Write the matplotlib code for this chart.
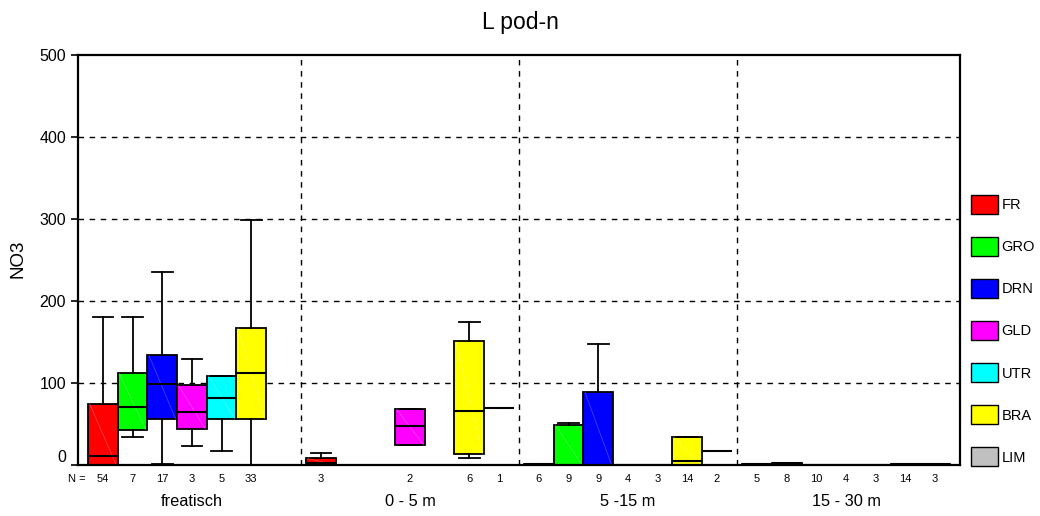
import matplotlib.pyplot as plt
from matplotlib.patches import Patch

plt.rcParams['font.family'] = ['Liberation Sans', 'DejaVu Sans']

groups = ['freatisch', '0 - 5 m', '5 -15 m', '15 - 30 m']
categories = ['FR', 'GRO', 'DRN', 'GLD', 'UTR', 'BRA', 'LIM']
colors = ['#ff0000', '#00ff00', '#0000ff', '#ff00ff', '#00ffff', '#ffff00', '#c0c0c0']

# number of samples per category (None = no data)
n_freatisch = [54, 7, 17, 3, 5, 33, None]
n_0_5 = [3, None, None, 2, None, 6, 1]
n_5_15 = [6, 9, 9, 4, 3, 14, 2]
n_15_30 = [5, 8, 10, 4, 3, 14, 3]

# box stats: (whisker low, q1, median, q3, whisker high)
box_freatisch = [(0, 0, 11, 75, 180), (34, 43, 71, 112, 180), (1, 56, 99, 134, 235),
                 (23, 44, 65, 97, 129), (17, 56, 82, 109, 109), (0, 56, 112, 167, 299), None]
box_0_5 = [(0, 0.5, 3, 8, 15), None, None, (25, 25, 47, 68, 68), None,
           (8, 13, 66, 151, 175), (69, 69, 69, 69, 69)]
box_5_15 = [(0, 0, 1, 1, 1), (0, 0, 0, 49, 51), (0, 0, 0, 89, 147), (0, 0, 0, 0, 0),
            (0, 0, 0, 0, 0), (0, 0, 5, 34, 34), (17, 17, 17, 17, 17)]
box_15_30 = [(0, 0, 1, 1, 1), (0, 1, 2, 3, 3), (0, 0, 0, 0, 0), (0, 0, 0, 0, 0),
             (0, 0, 0, 0, 0), (0, 0, 1, 1, 1), (0, 0, 1, 1, 1)]

all_n = [n_freatisch, n_0_5, n_5_15, n_15_30]
all_box = [box_freatisch, box_0_5, box_5_15, box_15_30]
group_step = 7.35

fig = plt.figure(figsize=(10.4, 5.16), dpi=100)
ax = fig.add_axes([0.075, 0.0988, 0.848, 0.7946])

stats, positions, facecols = [], [], []
for g, boxes in enumerate(all_box):
    for k, b in enumerate(boxes):
        if b is None:
            continue
        lo, q1, med, q3, hi = b
        stats.append(dict(whislo=lo, q1=q1, med=med, q3=q3, whishi=hi, fliers=[]))
        positions.append(g * group_step + k)
        facecols.append(colors[k])

res = ax.bxp(stats, positions=positions, widths=1.0, capwidths=0.7, patch_artist=True,
             showfliers=False, manage_ticks=False,
             boxprops=dict(edgecolor='black', linewidth=1.3),
             medianprops=dict(color='black', linewidth=1.5),
             whiskerprops=dict(color='black', linewidth=1.3),
             capprops=dict(color='black', linewidth=1.3))
for patch, c in zip(res['boxes'], facecols):
    patch.set_facecolor(c)

# faint diagonal line inside the boxes
for s, p in zip(stats, positions):
    if s['q3'] - s['q1'] > 5:
        ax.plot([p - 0.45, p + 0.45], [s['q3'], s['q1']], color='white', lw=0.5, alpha=0.3)

ax.set_xlim(-0.84, 3 * group_step + 6.84)
ax.set_ylim(0, 500)
ax.set_yticks([0, 100, 200, 300, 400, 500])
ax.tick_params(axis='y', labelsize=11.5, length=5, width=1.2, direction='out')
ax.set_xticks([])
for sp in ax.spines.values():
    sp.set_linewidth(1.6)
ax.get_yticklabels()[0].set_va('bottom')

for yv in [100, 200, 300, 400]:
    ax.axhline(yv, color='black', lw=1, ls=(0, (4, 4)), zorder=0)
for g in range(1, 4):
    ax.axvline(g * group_step - (group_step - 6) / 2, color='black', lw=1, ls=(0, (4, 4)), zorder=0)

# N labels and group labels under the axis
trans = ax.get_xaxis_transform()
ax.text(-0.88, -0.035, 'N =', transform=trans, ha='center', va='center', fontsize=8)
for g, ns in enumerate(all_n):
    for k, n in enumerate(ns):
        if n is not None:
            ax.text(g * group_step + k, -0.035, str(n), transform=trans,
                    ha='center', va='center', fontsize=8)
    ax.text(g * group_step + 3, -0.1, groups[g], transform=trans,
            ha='center', va='baseline', fontsize=11.8)

fig.text(0.5, 1 - 29.5 / 516, 'L pod-n', ha='center', va='baseline', fontsize=16.5)
fig.text(18 / 1040, 0.498, 'NO3', ha='center', va='center', rotation=90, fontsize=13.5)

handles = [Patch(facecolor=c, edgecolor='black', linewidth=1) for c in colors]
ax.legend(handles, categories, loc='upper left', bbox_to_anchor=(971 / 1040, 1 - 195 / 516),
          bbox_transform=fig.transFigure, frameon=False, fontsize=10.5, borderpad=0,
          borderaxespad=0, handlelength=1.85, handleheight=1.63, handletextpad=0.25,
          labelspacing=1.58)

fig.savefig('out.png', dpi=100)
